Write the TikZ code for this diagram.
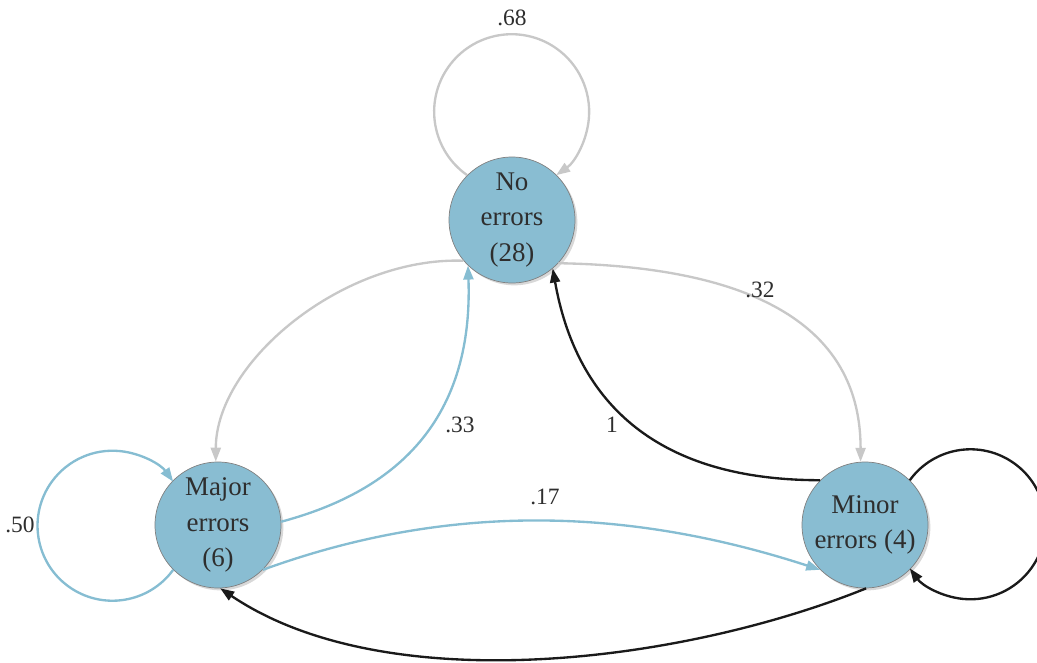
\documentclass[tikz,border=0pt]{standalone}
\usepackage{fontspec}
\setmainfont{Liberation Serif}
\usetikzlibrary{arrows.meta,shadows}

\definecolor{statefill}{HTML}{89BDD2}
\definecolor{edgeblue}{HTML}{86BDD2}
\definecolor{edgegrey}{HTML}{C8C8C8}
\definecolor{edgeblack}{HTML}{1A1A1A}
\definecolor{textgrey}{HTML}{2E2E2E}

\begin{document}
\begin{tikzpicture}[x=0.03cm, y=0.03cm, >={Triangle[length=0.42cm,width=0.3cm]},
  state/.style={circle, draw=black!50, line width=0.6pt, fill=statefill,
    minimum size=3.78cm, inner sep=0pt, align=center, text=textgrey,
    font=\fontsize{23}{30}\selectfont,
    drop shadow={shadow xshift=0.07cm, shadow yshift=-0.07cm, fill=black!30, opacity=0.5}},
  trans/.style={->, line width=2pt},
  prob/.style={font=\fontsize{20}{24}\selectfont, text=textgrey}]
  \useasboundingbox (0,0) rectangle (1037,-662);

  % states
  \node [state] (noerr) at (512,-220) {No\\errors\\(28)};
  \node [state] (major) at (218,-525) {Major\\errors\\(6)};
  \node [state] (minor) at (865,-525) {Minor\\errors (4)};

  % self loops
  \draw [trans, edgegrey] (noerr.135) arc [start angle=235, end angle=-55, radius=77.5];
  \draw [trans, edgeblue] (major.225) arc [start angle=-36, end angle=-324, radius=75];
  \draw [trans, edgeblack] (minor.45) arc [start angle=144, end angle=-144, radius=75];

  % between states
  \draw [trans, edgegrey] (noerr.220) .. controls +(178:120) and +(90:100) .. (major.92);
  \draw [trans, edgeblue] (major.3) .. controls +(15:100) and +(-88:170) .. (noerr.226);
  \draw [trans, edgegrey] (noerr.317) .. controls +(-1:170) and +(90:150) .. (minor.94);
  \draw [trans, edgeblack] (minor.135) .. controls +(180:170) and +(-80:130) .. (noerr.310);
  \draw [trans, edgeblue] (major.-45) .. controls +(20:200) and +(162:200) .. (minor.225);
  \draw [trans, edgeblack] (minor.271) .. controls +(-158:200) and +(-34:200) .. (major.272);

  % probabilities
  \node [prob] (p68) at (512,-18) {.68};
  \node [prob] (p50) at (20,-525) {.50};
  \node [prob] (p32) at (760,-290) {.32};
  \node [prob] (p33) at (460,-425) {.33};
  \node [prob] (p1) at (612,-425) {1};
  \node [prob] (p17) at (545,-497) {.17};
\end{tikzpicture}
\end{document}
